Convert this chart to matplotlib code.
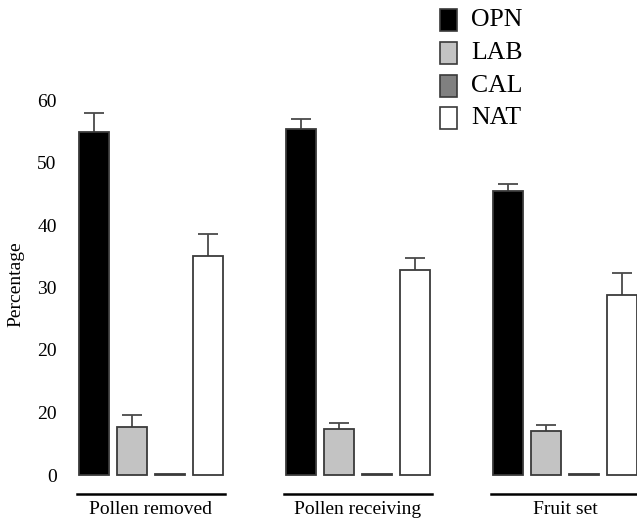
import matplotlib
matplotlib.use("Agg")
import matplotlib.pyplot as plt
from matplotlib.patches import Rectangle
import numpy as np

plt.rcParams['font.family'] = ['Liberation Serif', 'DejaVu Serif']

groups = ["Pollen removed", "Pollen receiving", "Fruit set"]
series = ["OPN", "LAB", "CAL", "NAT"]
opn = [54.9, 55.3, 45.4]
opn_err = [3.0, 1.7, 1.1]
lab = [7.7, 7.3, 7.0]
lab_err = [1.9, 1.1, 1.0]
cal = [0.2, 0.2, 0.2]
cal_err = [0.0, 0.0, 0.0]
nat = [35.1, 32.8, 28.8]
nat_err = [3.5, 1.9, 3.5]
yticks = [0, 10, 20, 30, 40, 50, 60]
ytick_labels = ["0", "20", "20", "30", "40", "50", "60"]

colors = ["#000000", "#c3c3c3", "#808080", "#ffffff"]
edge = "#3a3a3a"

W, H = 637, 519
fig = plt.figure(figsize=(W / 100, H / 100), dpi=100)

ax_left_px, ax_right_px = 65, 637
y0_px, y60_px = 475, 100
ppu = (y0_px - y60_px) / 60.0
ymin, ymax = -1, 62
ax_bottom_px = y0_px + (0 - ymin) * ppu
ax_top_px = y60_px - (ymax - 60) * ppu
ax = fig.add_axes([ax_left_px / W, (H - ax_bottom_px) / H,
                   (ax_right_px - ax_left_px) / W, (ax_bottom_px - ax_top_px) / H])

grp_px = 207.25
xmin = -(150.5 - ax_left_px) / grp_px
xmax = xmin + (ax_right_px - ax_left_px) / grp_px
ax.set_xlim(xmin, xmax)
ax.set_ylim(ymin, ymax)

x = np.arange(len(groups))
step = 38 / grp_px
width = 30 / grp_px
cap_half = 10 / grp_px
vals = [opn, lab, cal, nat]
errs = [opn_err, lab_err, cal_err, nat_err]
for i, (v, e, c) in enumerate(zip(vals, errs, colors)):
    pos = x + (i - 1.5) * step
    ax.bar(pos, v, width=width, color=c, edgecolor=edge, linewidth=1.3,
           label=series[i], zorder=2, clip_on=False)
    v = np.array(v)
    e = np.array(e)
    m = e > 0
    if m.any():
        ax.vlines(pos[m], v[m], v[m] + e[m], color='#4a4a4a', lw=1.3, zorder=1)
        ax.hlines(v[m] + e[m], pos[m] - cap_half, pos[m] + cap_half,
                  color='#4a4a4a', lw=1.3, zorder=1)

for s in ax.spines.values():
    s.set_visible(False)
ax.set_xticks([])
ax.set_yticks(yticks)
ax.set_yticklabels(ytick_labels, fontsize=14)
ax.tick_params(axis='y', length=0, pad=6)
ax.set_ylabel("Percentage", fontsize=14, labelpad=9)

line_y = (y0_px - 494) / ppu
text_y = (y0_px - 509) / ppu
half = 74 / grp_px
for xi, g in zip(x, groups):
    ax.plot([xi - half, xi + half], [line_y, line_y], color='black', lw=1.8, clip_on=False)
    ax.text(xi, text_y, g, ha='center', va='center', fontsize=14, clip_on=False)

leg_y = [20, 53, 86, 118]
for c, lab_txt, yy in zip(colors, series, leg_y):
    r = Rectangle((440 / W, (H - yy - 11) / H), 17 / W, 22 / H,
                  transform=fig.transFigure, facecolor=c, edgecolor=edge, linewidth=1.2)
    fig.add_artist(r)
    fig.text(471 / W, (H - yy) / H, lab_txt, fontsize=18.5, va='center', ha='left')

fig.savefig("out.png", dpi=100)
